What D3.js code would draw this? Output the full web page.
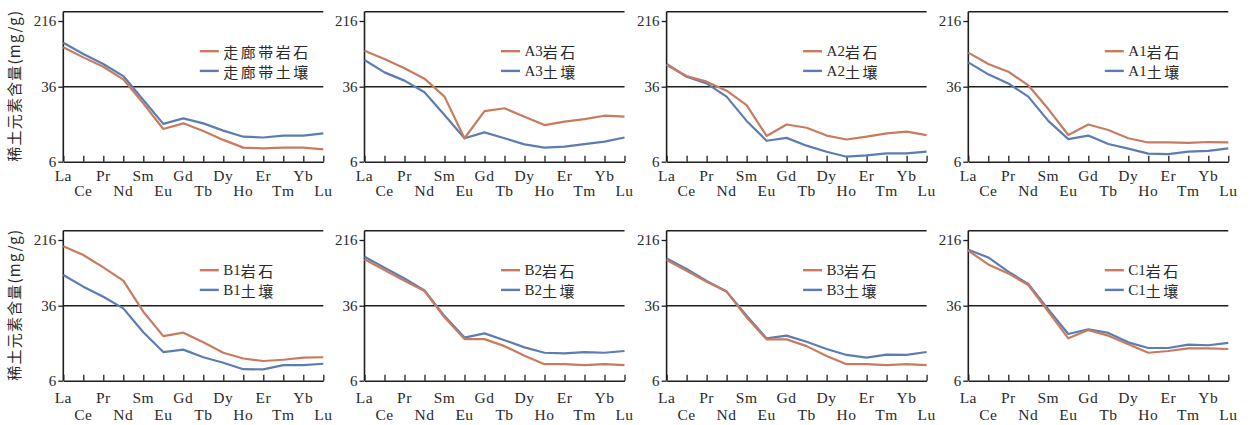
<!DOCTYPE html>
<html>
<head>
<meta charset="utf-8">
<script src="https://cdn.jsdelivr.net/npm/d3@7/dist/d3.min.js"></script>
<style>
  html, body { margin: 0; padding: 0; background: #ffffff; }
  svg { display: block; }
  .tick text, .elab { font-family: "Liberation Serif", "Times New Roman", serif; }
</style>
</head>
<body>
<svg id="chart" width="1256" height="425"></svg>
<script>
// ---------------- data ----------------
const elements = ["La","Ce","Pr","Nd","Sm","Eu","Gd","Tb","Dy","Ho","Er","Tm","Yb","Lu"];
const yTicks = [6, 36, 216];
const panelNames = ["走廊带","A3","A2","A1","B1","B2","B3","C1"];
const rockLabel = "岩石";
const soilLabel = "土壤";
const yTitle = "稀土元素含量(mg/g)";

const rockCorridor = [105.3, 80.1, 62.1, 44.0, 24.2, 13.1, 15.0, 12.5, 10.1, 8.4, 8.25, 8.4, 8.4, 8.06];
const soilCorridor = [119.5, 87.7, 66.8, 48.1, 26.2, 14.8, 16.9, 15.0, 12.6, 10.9, 10.7, 11.2, 11.2, 11.8];
const rockA3 = [96.0, 76.7, 59.4, 44.8, 28.4, 10.5, 20.1, 21.5, 17.6, 14.4, 15.6, 16.6, 18.0, 17.6];
const soilA3 = [74.5, 53.2, 42.5, 31.5, 18.3, 10.5, 12.1, 10.5, 9.08, 8.4, 8.6, 9.15, 9.68, 10.7];
const rockA2 = [65.0, 48.1, 41.3, 32.7, 23.2, 11.1, 14.6, 13.5, 11.2, 10.2, 10.9, 11.8, 12.3, 11.3];
const soilA2 = [66.8, 47.2, 39.4, 28.4, 15.9, 9.9, 10.6, 8.8, 7.62, 6.76, 6.99, 7.33, 7.33, 7.62];
const rockA1 = [91.1, 66.8, 54.2, 37.4, 21.1, 11.35, 14.6, 12.8, 10.5, 9.5, 9.5, 9.4, 9.6, 9.5];
const soilA1 = [69.9, 50.4, 39.4, 28.4, 15.9, 10.3, 11.2, 9.15, 8.2, 7.27, 7.2, 7.62, 7.76, 8.25];
const rockB1 = [182.2, 143.4, 102.5, 71.2, 31.2, 17.4, 18.9, 15.0, 11.7, 10.2, 9.6, 9.9, 10.4, 10.5];
const soilB1 = [83.1, 60.5, 46.0, 33.8, 19.1, 11.9, 12.6, 10.5, 9.2, 7.9, 7.87, 8.7, 8.7, 9.0];
const rockB2 = [127.5, 95.3, 71.2, 53.7, 27.3, 16.2, 16.2, 13.7, 10.9, 8.9, 8.9, 8.7, 8.9, 8.7];
const soilB2 = [136.9, 101.6, 75.7, 54.7, 28.1, 16.8, 18.6, 15.8, 13.3, 11.7, 11.5, 11.9, 11.7, 12.2];
const rockB3 = [124.9, 93.5, 69.2, 52.9, 27.3, 16.1, 16.1, 13.7, 10.8, 8.9, 8.9, 8.7, 8.9, 8.7];
const soilB3 = [130.9, 97.8, 70.5, 52.9, 28.4, 16.5, 17.6, 15.2, 12.8, 11.1, 10.4, 11.2, 11.1, 11.9];
const rockC1 = [161.4, 111.1, 86.9, 63.3, 31.2, 16.5, 20.1, 17.6, 14.3, 11.7, 12.2, 13.0, 13.0, 12.8];
const soilC1 = [165.6, 134.2, 91.1, 65.0, 33.0, 18.3, 20.5, 18.8, 15.0, 13.1, 13.1, 14.2, 14.0, 14.8];

const rockSeries = [rockCorridor, rockA3, rockA2, rockA1, rockB1, rockB2, rockB3, rockC1];
const soilSeries = [soilCorridor, soilA3, soilA2, soilA1, soilB1, soilB2, soilB3, soilC1];

// ---------------- layout ----------------
const rockColor = "#c97b5f";
const soilColor = "#5b7db4";
const axisColor = "#1e1e1e";
const W = 260, H = 150;
const panelLefts = [63.3, 364.5, 666.6, 968.3];
const rowTops = [11.7, 230.7];
const labelOffsets = [[13.5, 28.5], [17, 34.3]];

const svg = d3.select("#chart");

const x = d3.scalePoint().domain(elements).range([0, W]);
const y = d3.scaleLog().domain(yTicks).range([H, H / 2, 9.3]);

const line = d3.line().x((d, i) => x(elements[i])).y(d => y(d));

panelNames.forEach((name, p) => {
  const row = Math.floor(p / 4), col = p % 4;
  const g = svg.append("g").attr("transform", `translate(${panelLefts[col]},${rowTops[row]})`);

  // top border and 36 reference line
  g.append("line").attr("x1", 0).attr("x2", W).attr("y1", 0).attr("y2", 0)
    .attr("stroke", axisColor).attr("stroke-width", 1.4);
  g.append("line").attr("x1", 0).attr("x2", W).attr("y1", y(36)).attr("y2", y(36))
    .attr("stroke", axisColor).attr("stroke-width", 1.4);
  // left frame
  g.append("line").attr("x1", 0).attr("x2", 0).attr("y1", 0).attr("y2", H)
    .attr("stroke", axisColor).attr("stroke-width", 1.6);

  // y axis
  const ya = g.append("g").call(d3.axisLeft(y).tickValues(yTicks).tickSize(5).tickSizeOuter(0)
      .tickPadding(2).tickFormat(d3.format("d")));
  ya.select(".domain").remove();
  ya.selectAll(".tick line").attr("stroke", axisColor).attr("stroke-width", 1.3);
  ya.selectAll(".tick text").attr("fill", "#2a2a2a").style("font-size", "15px");

  // x axis
  const xa = g.append("g").attr("transform", `translate(0,${H})`)
    .call(d3.axisBottom(x).tickSize(-6).tickSizeOuter(0).tickFormat(""));
  xa.select(".domain").attr("stroke", axisColor).attr("stroke-width", 1.6);
  xa.selectAll(".tick line").attr("stroke", axisColor).attr("stroke-width", 1.3);

  g.selectAll(".elab").data(elements).enter().append("text")
    .attr("class", "elab")
    .attr("x", d => x(d))
    .attr("y", (d, i) => H + labelOffsets[row][i % 2])
    .attr("text-anchor", "middle")
    .attr("dominant-baseline", "central")
    .attr("fill", "#2a2a2a")
    .style("font-size", "15.5px")
    .style("letter-spacing", "0.5px")
    .text(d => d);

  // data lines
  g.append("path").datum(soilSeries[p]).attr("d", line)
    .attr("fill", "none").attr("stroke", soilColor).attr("stroke-width", 2.2)
    .attr("stroke-linejoin", "round");
  g.append("path").datum(rockSeries[p]).attr("d", line)
    .attr("fill", "none").attr("stroke", rockColor).attr("stroke-width", 2.2)
    .attr("stroke-linejoin", "round");

  // legend
  const leg = [[rockLabel, rockColor, 39.5], [soilLabel, soilColor, 59.2]];
  leg.forEach(([lab, col2, ly]) => {
    g.append("line").attr("x1", 136.5).attr("x2", 155.5).attr("y1", ly).attr("y2", ly)
      .attr("stroke", col2).attr("stroke-width", 2.4);
    const t = g.append("text").attr("x", 160).attr("y", ly)
      .attr("dominant-baseline", "central")
      .attr("fill", "#2a2a2a")
      .style("font-size", "15px");
    t.append("tspan").style("font-family", "'Liberation Serif', serif").text(p === 0 ? "" : name);
    t.append("tspan").style("font-family", "'Noto Sans CJK SC', sans-serif")
      .style("letter-spacing", "2.5px").text((p === 0 ? name : "") + lab);
  });

  // y title on the left column
  if (col === 0) {
    svg.append("text")
      .attr("transform", `translate(13,${rowTops[row] + H / 2 - 1}) rotate(-90)`)
      .attr("text-anchor", "middle")
      .attr("dominant-baseline", "central")
      .attr("fill", "#2a2a2a")
      .style("font-size", "15px")
      .style("font-family", "'Noto Sans CJK SC', sans-serif")
      .style("letter-spacing", "1.2px")
      .text(yTitle);
  }
});
</script>
</body>
</html>
